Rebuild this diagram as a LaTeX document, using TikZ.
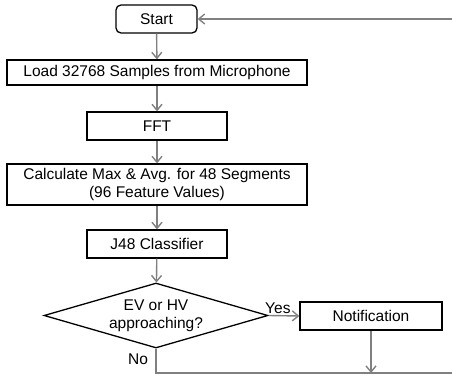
\documentclass[tikz,border=0pt]{standalone}
\usepackage{fontspec}
\setmainfont{Liberation Sans}
\usepackage{tikz}
\usetikzlibrary{
    positioning,
    arrows.meta,
    shapes.geometric
}
\definecolor{flowGray}{RGB}{128, 128, 128}

\begin{document}
\begin{tikzpicture}[x=1pt, y=1pt, >={Straight Barb[length=6pt, width=10pt]},
    box/.style={draw, line width=1.3pt, inner sep=0pt, align=center, font=\fontsize{15.5}{18.3}\selectfont},
    startbox/.style={box, rounded corners=5pt},
    decision/.style={box, diamond, shape aspect=3.4, inner sep=0pt},
    flow/.style={->, flowGray, line width=1.4pt},
    tag/.style={text=black, font=\fontsize{15.5}{18}\selectfont}]
                \useasboundingbox (0,0) rectangle (452,376);

                \node[startbox, minimum width=81pt, minimum height=28pt] (start) at (156.5, 357) {Start};
                \node[box, minimum width=300pt, minimum height=25pt] (load) at (157, 303.5) {Load 32768 Samples from Microphone};
                \node[box, minimum width=140pt, minimum height=28pt] (fft) at (157, 250) {FFT};
                \node[box, minimum width=300pt, minimum height=41pt] (calc) at (157, 191.5) {Calculate Max \& Avg. for 48 Segments\\(96 Feature Values)};
                \node[box, minimum width=140pt, minimum height=28pt] (j48) at (157, 132) {J48 Classifier};
                \node[decision, minimum width=224pt, minimum height=65pt] (dec) at (156, 60.5) {EV or HV\\approaching?};
                \node[box, minimum width=142pt, minimum height=28pt] (notif) at (371, 60) {Notification};

                \coordinate (low) at (456, 3);
                \coordinate (high) at (456, 357);

                \draw[flow] (start) -- (load);
                \draw[flow] (load) -- (fft);
                \draw[flow] (fft) -- (calc);
                \draw[flow] (calc) -- (j48);
                \draw[flow] (j48) -- (dec);
                \draw[flow] (dec.east) -- (notif.west) node[pos=0.3, above, tag, inner sep=1pt] {Yes};
                \draw[flow] (notif.south) -- (notif.south |- low);
                \draw[flow] (dec.south) -- (dec.south |- low) -- (low) -- (high) -- (start.east);

                \node[tag] (no) at (138, 17) {No};
            \end{tikzpicture}
\end{document}
